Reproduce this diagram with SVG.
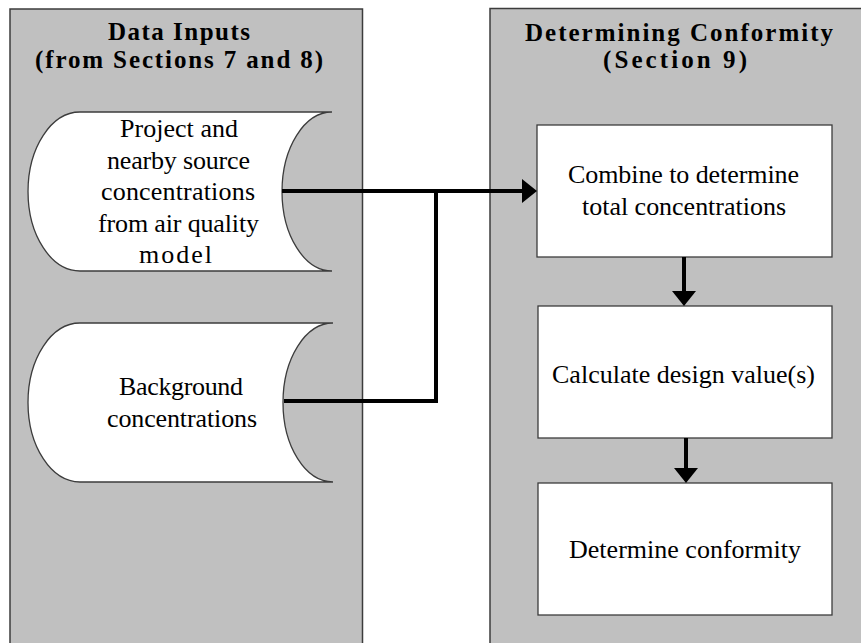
<svg xmlns="http://www.w3.org/2000/svg" width="861" height="643" viewBox="0 0 861 643">
<style>
.panel{fill:#c0c0c0;stroke:#3c3c3c;stroke-width:1.5}
.node{fill:#ffffff;stroke:#3c3c3c;stroke-width:1.3}
.title{font-family:"Liberation Serif","Times New Roman",serif;font-weight:bold;font-size:25px;fill:#000;text-anchor:middle}
.lbl{font-family:"Liberation Serif","Times New Roman",serif;font-size:26px;fill:#000;text-anchor:middle}
.conn{fill:none;stroke:#000;stroke-width:4}
</style>
<defs>
<marker id="arr" markerUnits="userSpaceOnUse" markerWidth="16" markerHeight="25" refX="0" refY="12" orient="auto" overflow="visible">
<path d="M0,0 L15,12 L0,24 Z" fill="#000"/>
</marker>
</defs>
<g id="panel-inputs">
<rect class="panel" x="10" y="9" width="352.5" height="700"/>
<text class="title" x="179" y="40" textLength="142">Data Inputs</text>
<text class="title" x="179" y="68" textLength="288">(from Sections 7 and 8)</text>
</g>
<g id="panel-conformity">
<rect class="panel" x="490" y="8.5" width="400" height="700"/>
<text class="title" x="679" y="40.5" textLength="308">Determining Conformity</text>
<text class="title" x="675" y="68" textLength="144">(Section 9)</text>
</g>
<g id="node-project">
<path class="node" d="M80,112 L332,112 A50,79.5 0 0 0 332,271 L80,271 A52,79.5 0 0 1 80,112 Z"/>
<text class="lbl" x="179" y="137" textLength="118">Project and</text>
<text class="lbl" x="178.5" y="168.5" textLength="143">nearby source</text>
<text class="lbl" x="178" y="200" textLength="154">concentrations</text>
<text class="lbl" x="178.5" y="231.5" textLength="161">from air quality</text>
<text class="lbl" x="175.5" y="263" textLength="73">model</text>
</g>
<g id="node-background">
<path class="node" d="M80,323 L333,323 A50,79.5 0 0 0 333,482 L80,482 A52,79.5 0 0 1 80,323 Z"/>
<text class="lbl" x="181" y="395" textLength="124">Background</text>
<text class="lbl" x="182" y="426.5" textLength="150">concentrations</text>
</g>
<g id="node-combine">
<rect class="node" x="537" y="125" width="295" height="132"/>
<text class="lbl" x="683.5" y="183" textLength="231">Combine to determine</text>
<text class="lbl" x="684" y="215" textLength="204">total concentrations</text>
</g>
<g id="node-design">
<rect class="node" x="538" y="306" width="294" height="132"/>
<text class="lbl" x="683.5" y="382.5" textLength="263">Calculate design value(s)</text>
</g>
<g id="node-determine">
<rect class="node" x="538" y="483" width="294" height="132"/>
<text class="lbl" x="685" y="558" textLength="232">Determine conformity</text>
</g>
<g id="connectors">
<path class="conn" d="M282,191 H522" marker-end="url(#arr)"/>
<path class="conn" d="M284,401 H436 V191"/>
<path class="conn" d="M684,257 V291" marker-end="url(#arr)"/>
<path class="conn" d="M686,438 V468" marker-end="url(#arr)"/>
</g>
</svg>
